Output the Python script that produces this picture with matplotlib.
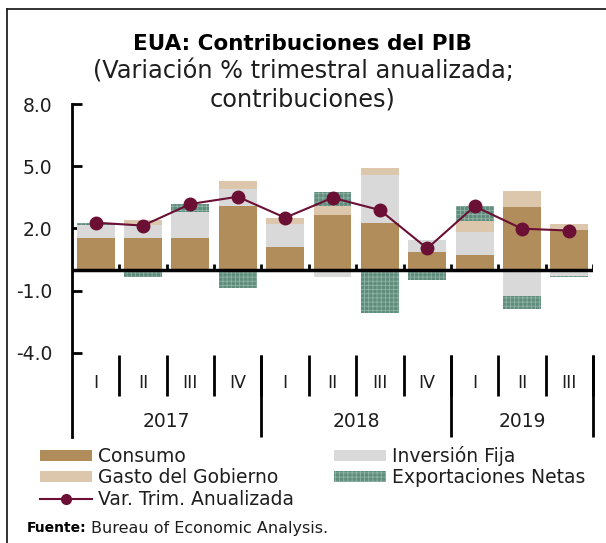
import numpy as np
import matplotlib
matplotlib.use("Agg")
import matplotlib.pyplot as plt
from matplotlib.lines import Line2D
from matplotlib.patches import Patch

plt.rcParams["font.family"] = ["DejaVu Sans"]
plt.rcParams["hatch.linewidth"] = 0.6

# datos
trimestres = ["I", "II", "III", "IV", "I", "II", "III", "IV", "I", "II", "III"]
anios = ["2017", "2018", "2019"]
trim_por_anio = [4, 4, 3]
consumo = [1.56, 1.56, 1.54, 3.10, 1.09, 2.65, 2.28, 0.88, 0.73, 3.02, 1.91]
inversion = [0.61, 0.61, 1.27, 0.80, 1.11, -0.34, 2.30, 0.56, 1.11, -1.23, -0.30]
gasto = [0.00, 0.24, 0.00, 0.40, 0.31, 0.45, 0.35, 0.00, 0.50, 0.80, 0.32]
exportaciones = [0.08, -0.35, 0.37, -0.85, 0.00, 0.66, -2.09, -0.46, 0.74, -0.67, -0.05]
pib = [2.28, 2.14, 3.18, 3.53, 2.52, 3.48, 2.89, 1.04, 3.07, 1.99, 1.90]
yticks = [8.0, 5.0, 2.0, -1.0, -4.0]

c_consumo = "#b08d5b"
c_inversion = "#d9d9d9"
c_gasto = "#dcc7ad"
c_export = "#5f8c7c"
c_linea = "#6b0f35"
c_texto = "#1e1e1e"

W, H = 606, 543
fig = plt.figure(figsize=(W / 100, H / 100), dpi=100)
ax = fig.add_axes([72 / W, 1 - 437 / H, (593 - 72) / W, (437 - 104) / H])

x = np.arange(len(trimestres))
series = [
    (consumo, c_consumo, None, None),
    (inversion, c_inversion, None, None),
    (gasto, c_gasto, None, None),
    (exportaciones, c_export, "++++", "#8fb3a5"),
]
pos_base = np.zeros(len(x))
neg_base = np.zeros(len(x))
for vals, color, hatch, hcol in series:
    v = np.asarray(vals)
    bottom = np.where(v >= 0, pos_base, neg_base)
    ax.bar(x, v, 0.8, bottom=bottom, color=color, hatch=hatch,
           edgecolor=hcol if hcol else color, linewidth=0, zorder=2)
    pos_base += np.where(v >= 0, v, 0)
    neg_base += np.where(v < 0, v, 0)

ax.plot(x, pib, color=c_linea, lw=1.5, marker="o", ms=9, zorder=4)

ax.set_xlim(-0.5, len(x) - 0.5)
ax.set_ylim(-8.05, 8.0)
for s in ["top", "right", "bottom"]:
    ax.spines[s].set_visible(False)
ax.spines["left"].set_linewidth(2)
ax.set_yticks(yticks)
ax.set_yticklabels([f"{t:.1f}" for t in yticks])
ax.tick_params(axis="y", direction="in", length=7, width=2, pad=14, labelsize=13.5,
               labelcolor=c_texto)
ax.set_xticks([])

# linea del cero con marcas
ax.axhline(0, color="black", lw=2.5, zorder=3)
bordes = np.arange(len(x)) + 0.5
ax.vlines(bordes, 0, 0.3, color="black", lw=2, zorder=3)

# eje de categorias en dos niveles
ax.vlines(bordes, -4.1, -6.05, color="black", lw=2, clip_on=False)
fin_anio = np.cumsum(trim_por_anio) - 0.5
ax.vlines(fin_anio, -4.1, -8.05, color="black", lw=2, clip_on=False)
for xi, t in zip(x, trimestres):
    ax.text(xi, -5.45, t, ha="center", va="center", fontsize=12.5, color=c_texto)
inicio = -0.5
for a, n in zip(anios, trim_por_anio):
    ax.text(inicio + n / 2, -7.3, a, ha="center", va="center", fontsize=13.5, color=c_texto)
    inicio += n

# titulos
fig.text(302 / W, 1 - 44 / H, "EUA: Contribuciones del PIB", ha="center", va="center",
         fontsize=15.5, fontweight="bold")
fig.text(303 / W, 1 - 72 / H, "(Variación % trimestral anualizada;", ha="center",
         va="center", fontsize=17.3, color=c_texto)
fig.text(303 / W, 1 - 99 / H, "contribuciones)", ha="center", va="center", fontsize=17.3,
         color=c_texto)

# leyenda
handles = [
    Patch(facecolor=c_consumo, label="Consumo"),
    Patch(facecolor=c_gasto, label="Gasto del Gobierno"),
    Line2D([0], [0], color=c_linea, lw=1.5, marker="o", ms=7, label="Var. Trim. Anualizada"),
    Patch(facecolor=c_inversion, label="Inversión Fija"),
    Patch(facecolor=c_export, hatch="++++", edgecolor="#8fb3a5", linewidth=0,
          label="Exportaciones Netas"),
]
leg = fig.legend(handles=handles, ncol=2, loc="upper left",
                 bbox_to_anchor=(40 / W, 1 - 446 / H), frameon=False, fontsize=13.5,
                 handlelength=2.8, handleheight=0.5, handletextpad=0.3,
                 columnspacing=2.1, labelspacing=0.13, borderpad=0, borderaxespad=0)
for t in leg.get_texts():
    t.set_color(c_texto)

fig.text(27 / W, 1 - 528 / H, "Fuente:", ha="left", va="center", fontsize=10,
         fontweight="bold")
fig.text(91 / W, 1 - 528 / H, "Bureau of Economic Analysis.", ha="left", va="center",
         fontsize=11.5, color=c_texto)

# marco
fig.add_artist(Line2D([7 / W, 7 / W], [0, 1 - 9 / H], color="#222222", lw=1.3))
fig.add_artist(Line2D([7 / W, 1], [1 - 9 / H, 1 - 9 / H], color="#222222", lw=1.3))

fig.savefig("out.png", dpi=100)
